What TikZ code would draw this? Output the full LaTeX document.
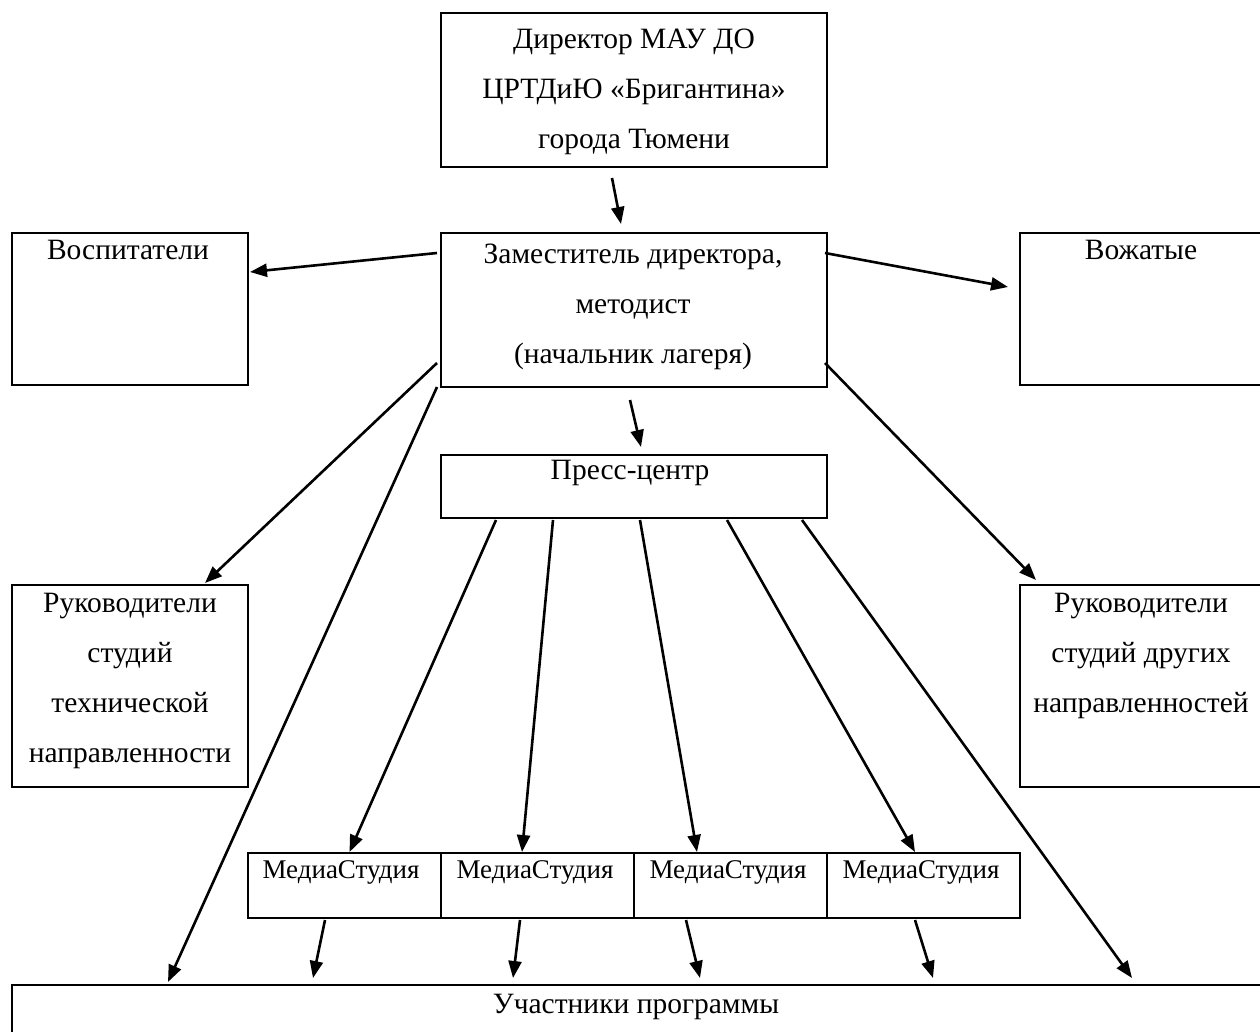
\documentclass[tikz,border=0pt]{standalone}
\usepackage{fontspec}
\setmainfont{Liberation Serif}
\usetikzlibrary{arrows.meta}
\begin{document}
\begin{tikzpicture}[x=1pt,y=-1pt,
  box/.style={draw,line width=2.6pt,inner sep=0pt,outer sep=0pt,anchor=north west},
  txt/.style={font=\fontsize{29.5}{50}\selectfont,align=center,anchor=base,inner sep=0pt},
  mtxt/.style={font=\fontsize{27}{30}\selectfont,anchor=base,inner sep=0pt},
  arr/.style={line width=2.6pt,-{Triangle[length=17pt,width=13pt]}}]
\useasboundingbox (0,0) rectangle (1260,1032);
\clip (0,0) rectangle (1260,1032);
% boxes
\node[box,minimum width=386pt,minimum height=154pt] (dir) at (441,13) {};
\node[box,minimum width=386pt,minimum height=154pt] (zam) at (441,233) {};
\node[box,minimum width=236pt,minimum height=152pt] (vosp) at (12,233) {};
\node[box,minimum width=242pt,minimum height=152pt] (voz) at (1020,233) {};
\node[box,minimum width=386pt,minimum height=63pt] (press) at (441,455) {};
\node[box,minimum width=236pt,minimum height=202pt] (rukt) at (12,585) {};
\node[box,minimum width=242pt,minimum height=202pt] (rukd) at (1020,585) {};
\node[box,minimum width=193pt,minimum height=65pt] (m1) at (248,853) {};
\node[box,minimum width=193pt,minimum height=65pt] (m2) at (441,853) {};
\node[box,minimum width=193pt,minimum height=65pt] (m3) at (634,853) {};
\node[box,minimum width=193pt,minimum height=65pt] (m4) at (827,853) {};
\node[box,minimum width=1250pt,minimum height=80pt] (uch) at (12,985) {};
% texts (base anchor = baseline of the last line)
\node[txt] (dirt) at (634,149) {Директор МАУ ДО\\ЦРТДиЮ «Бригантина»\\города Тюмени};
\node[txt] (zamt) at (633,363) {Заместитель директора,\\методист\\(начальник лагеря)};
\node[txt] (vospt) at (128,260) {Воспитатели};
\node[txt] (vozt) at (1141,260) {Вожатые};
\node[txt] (presst) at (630,479) {Пресс-центр};
\node[txt] (ruktt) at (130,762) {Руководители\\студий\\технической\\направленности};
\node[txt] (rukdt) at (1141,712) {Руководители\\студий других\\направленностей};
\node[mtxt] (m1t) at (341,878) {МедиаСтудия};
\node[mtxt] (m2t) at (535,878) {МедиаСтудия};
\node[mtxt] (m3t) at (728,878) {МедиаСтудия};
\node[mtxt] (m4t) at (921,878) {МедиаСтудия};
\node[txt] (ucht) at (636,1013) {Участники программы};
% connectors
\draw[arr] ([shift={(-22,11)}]dir.south) -- ([shift={(-13,-9)}]zam.north);
\draw[arr] ([shift={(-4,20)}]zam.north west) -- ([shift={(2,39)}]vosp.north east);
\draw[arr] ([shift={(-2,20)}]zam.north east) -- ([shift={(-12,54)}]voz.north west);
\draw[arr] ([shift={(-4,13)}]zam.south) -- ([shift={(7,-8)}]press.north);
\draw[arr] ([shift={(-4,-24)}]zam.south west) -- ([shift={(-43,-2)}]rukt.north east);
\draw[arr] ([shift={(-4,0)}]zam.south west) -- ([shift={(156,-3)}]uch.north west);
\draw[arr] ([shift={(-2,-24)}]zam.south east) -- ([shift={(16,-5)}]rukd.north west);
\draw[arr] ([shift={(55,2)}]press.south west) -- ([shift={(5,-1)}]m1.north);
\draw[arr] ([shift={(112,2)}]press.south west) -- ([shift={(-15.5,-1)}]m2.north);
\draw[arr] ([shift={(199,2)}]press.south west) -- ([shift={(-33.5,-1)}]m3.north);
\draw[arr] ([shift={(286,2)}]press.south west) -- ([shift={(-8.5,-1)}]m4.north);
\draw[arr] ([shift={(361,2)}]press.south west) -- ([shift={(1120,-7)}]uch.north west);
\draw[arr] ([shift={(-19.5,2)}]m1.south) -- ([shift={(301,-7)}]uch.north west);
\draw[arr] ([shift={(-17.5,2)}]m2.south) -- ([shift={(501,-7)}]uch.north west);
\draw[arr] ([shift={(-44.5,2)}]m3.south) -- ([shift={(688,-7)}]uch.north west);
\draw[arr] ([shift={(-8.5,2)}]m4.south) -- ([shift={(921,-7)}]uch.north west);
\end{tikzpicture}
\end{document}
